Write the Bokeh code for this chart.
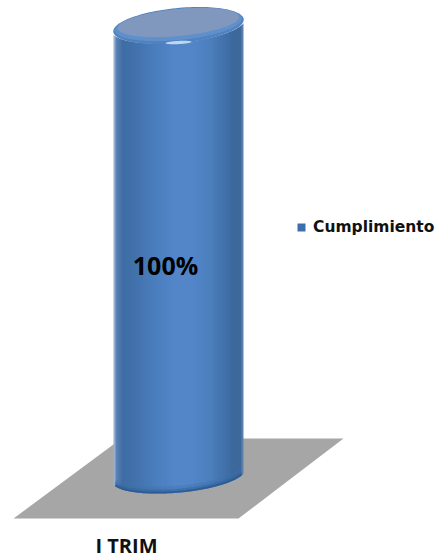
import numpy as np
from bokeh.plotting import figure
from bokeh.models import Range1d, Legend, LegendItem
from bokeh.core.properties import value
from bokeh.embed import file_html
from bokeh.resources import INLINE

categories = ["I TRIM"]
series_name = "Cumplimiento"
values = [100]
labels = ["100%"]

W, H = 437, 559
PXX, PXY = 65.0, 4.5           # screen pixels per data unit
CX, BASE = 178, 475            # screen position of category 0 / value 0

p = figure(width=W, height=H, output_backend="svg", toolbar_location=None,
           min_border=0, outline_line_color=None,
           x_range=Range1d(-CX / PXX, (W - CX) / PXX),
           y_range=Range1d((BASE - H) / PXY, BASE / PXY))
p.grid.visible = False
p.axis.visible = False


def X(px):
    return np.asarray(px, dtype=float) / PXX


def Y(py_up):
    return np.asarray(py_up, dtype=float) / PXY


def ellipse(a, b, th_deg, n=120):
    t = np.linspace(0, 2 * np.pi, n)
    th = np.radians(th_deg)
    return (a * np.cos(t) * np.cos(th) - b * np.sin(t) * np.sin(th),
            a * np.cos(t) * np.sin(th) + b * np.sin(t) * np.cos(th))


def lower(dx, a, b, th_deg):
    ex, ey = ellipse(a, b, th_deg, 720)
    out = []
    for d in dx:
        sel = np.abs(ex - d) < 1.2
        out.append(ey[sel].min() if sel.any() else d * np.tan(np.radians(th_deg)))
    return np.array(out)


# floor
p.patch(X(np.array([13, 121, 343, 238]) - CX),
        Y(BASE - np.array([518, 438, 438, 518])),
        fill_color="#A6A6A6", line_color=None)

A, B, TH = 65.5, 17.0, 5.5
stops_x = [-65, -62, -56, -45, -25, -5, 15, 32, 45, 55, 62, 65]
stops = [(0xB8, 0xC8, 0xDC), (0x5A, 0x82, 0xB4), (0x3F, 0x6D, 0xA4), (0x42, 0x72, 0xAB),
         (0x4A, 0x7D, 0xBC), (0x52, 0x86, 0xC8), (0x52, 0x86, 0xC8), (0x4C, 0x7F, 0xBD),
         (0x44, 0x73, 0xAC), (0x3C, 0x68, 0x9C), (0x3F, 0x69, 0x9C), (0x6C, 0x8E, 0xB8)]
edges = np.arange(-65, 66, 2.0)
xs, ys, cols = [], [], []
top = values[0]
for l, r in zip(edges[:-1], edges[1:]):
    d = np.array([l, min(r + 1.0, 65)])
    mid = (l + r) / 2
    c = [int(np.interp(mid, stops_x, [s[i] for s in stops])) for i in range(3)]
    low = Y(lower(d, A, B, TH))
    xs.append(list(X([d[0], d[1], d[1], d[0]])))
    ys.append([low[0], low[1], low[1] + top, low[0] + top])
    cols.append("#%02X%02X%02X" % tuple(c))
p.patches(xs, ys, fill_color=cols, line_color=None)

# darker bottom edge of the cylinder
dxs = np.arange(-63, 64, 2.0)
for off, col, alpha, w in [(5, "#3F6FA8", 0.35, 4), (2.5, "#35659E", 0.6, 3), (1, "#2C5C94", 0.95, 2)]:
    p.line(X(dxs), Y(lower(dxs, A, B, TH) + off), line_color=col, line_alpha=alpha, line_width=w)

# top: rim, lid, highlight
ex, ey = ellipse(65.5, 17.5, TH)
p.patch(X(ex), Y(ey) + top, fill_color="#4F82BF", line_color=None)
ex, ey = ellipse(64.0, 15.5, TH)
p.patch(X(ex), Y(ey + 1) + top, fill_color="#5F90CB", line_color=None)
ex, ey = ellipse(61, 13.5, TH)
p.patch(X(ex), Y(ey + 3) + top, fill_color="#8098BD", line_color=None)
ex, ey = ellipse(13, 1.6, 3)
p.patch(X(ex), Y(ey - 17) + top, fill_color="#BFD6F0", line_color=None)

# value label
p.text(x=[0], y=[values[0] * 0.467], text=labels, text_align="center", text_baseline="middle",
       x_offset=-13, text_font=value("Open Sans"), text_font_style="bold",
       text_font_size="25px", text_color="#000000")

# category label
p.text(x=[0], y=[-15.6], text=categories, text_align="center", text_baseline="middle",
       x_offset=-52, text_font=value("Open Sans"), text_font_style="bold",
       text_font_size="20px", text_color="#111111")

# legend
key = p.quad(left=[float("nan")], right=[float("nan")], bottom=[float("nan")], top=[float("nan")],
             fill_color="#3E6EA9", line_color=None)
leg = Legend(items=[LegendItem(label=series_name, renderers=[key])],
             location=(296, 323), orientation="vertical", background_fill_alpha=0,
             border_line_color=None, padding=0, margin=0, spacing=0,
             glyph_width=10, glyph_height=10, label_standoff=7,
             label_text_font="DejaVu Sans", label_text_font_style="bold",
             label_text_font_size="15.5px", label_text_color="#111111")
p.add_layout(leg, "center")

open("out.html", "w").write(file_html(p, INLINE))
